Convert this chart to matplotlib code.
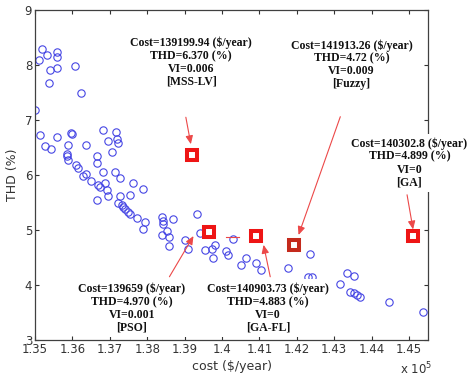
import matplotlib
matplotlib.use("Agg")
import matplotlib.pyplot as plt
from matplotlib.ticker import FormatStrFormatter

# Pareto front points: cost ($/year) and THD (%)
cost = [135180, 135115, 135313, 135597, 135597, 135402, 135597, 136063, 135383, 136223,
        135000, 135134, 135268, 135436, 135581, 135964, 135990, 135891, 136373, 136812,
        137168, 137195, 137222, 136954, 137053, 135849, 135865, 135891, 136084, 136138,
        136272, 136352, 136491, 136668, 136660, 136812, 137142, 137275, 136695, 136740,
        136874, 137632, 137883, 136919, 136962, 136652, 137275, 137230, 137321, 137364,
        137409, 137498, 137530, 137543, 137722, 137945, 137891, 138400, 138413, 138435,
        138702, 138526, 138392, 138595, 138579, 139329, 139016, 139104, 139417, 139551,
        139730, 139819, 139765, 140100, 140153, 140308, 140630, 140515, 140903, 141031,
        141759, 142343, 142308, 142407, 143157, 143334, 143521, 143414, 143521, 143612,
        143700, 144458, 145379]
thd = [8.29, 8.10, 8.18, 8.23, 8.15, 7.91, 7.95, 7.99, 7.67, 7.49,
       7.18, 6.72, 6.52, 6.48, 6.69, 6.76, 6.75, 6.55, 6.55, 6.82,
       6.78, 6.65, 6.59, 6.61, 6.42, 6.38, 6.34, 6.28, 6.18, 6.12,
       5.98, 6.01, 5.90, 6.35, 6.21, 6.05, 6.06, 5.94, 5.82, 5.79,
       5.85, 5.85, 5.75, 5.73, 5.61, 5.55, 5.61, 5.50, 5.45, 5.42,
       5.39, 5.33, 5.30, 5.64, 5.21, 5.15, 5.01, 5.24, 5.17, 5.11,
       5.20, 4.99, 4.91, 4.87, 4.71, 5.30, 4.81, 4.66, 4.94, 4.64,
       4.66, 4.73, 4.49, 4.62, 4.55, 4.83, 4.50, 4.36, 4.40, 4.27,
       4.31, 4.56, 4.15, 4.14, 4.02, 4.22, 4.16, 3.88, 3.85, 3.82,
       3.78, 3.70, 3.51]

# Method solutions
methods = ["MSS-LV", "PSO", "GA-FL", "Fuzzy", "GA"]
method_cost = [139199.94, 139659, 140903.73, 141913.26, 145111]
method_thd = [6.370, 4.970, 4.883, 4.72, 4.899]
method_cost_label = ["139199.94", "139659", "140903.73", "141913.26", "140302.8"]
method_thd_label = ["6.370", "4.970", "4.883", "4.72", "4.899"]
method_vi_label = ["0.006", "0.001", "0", "0.009", "0"]
method_colors = ["#ee1515", "#ee1515", "#ee1515", "#c42a1c", "#ee1515"]

# annotation text centres and arrow tails/heads (cost, thd)
text_pos = [(139176, 8.05), (137591, 3.58), (141237, 3.58), (143467, 8.01), (145012, 6.22)]
arrow_tail = [(139034, 7.05), (138595, 4.15), (141291, 4.15), (143165, 7.06), (144950, 5.64)]
arrow_head = [(139168, 6.56), (139238, 4.89), (141112, 4.73), (142048, 4.91), (145111, 5.01)]

x_ticks = [1.35, 1.36, 1.37, 1.38, 1.39, 1.40, 1.41, 1.42, 1.43, 1.44, 1.45]
y_ticks = [3, 4, 5, 6, 7, 8, 9]

fig = plt.figure(figsize=(4.74, 3.78), dpi=100)
ax = fig.add_axes([35/474, 1-340/378, (428-35)/474, 330/378])

ax.plot([c/1e5 for c in cost], thd, linestyle="none", marker="o", ms=5.3,
        mfc="none", mec="#4646e4", mew=0.8, zorder=2)

for i in range(len(methods)):
    ax.plot(method_cost[i]/1e5, method_thd[i], linestyle="none", marker="s",
            ms=6.5, mfc="white", mec=method_colors[i], mew=2.9, zorder=4)
    tx, ty = text_pos[i]
    ax.text(tx/1e5, ty,
            f"Cost={method_cost_label[i]} ($/year)\nTHD={method_thd_label[i]} (%)\n"
            f"VI={method_vi_label[i]}\n[{methods[i]}]",
            ha="center", va="center", family="Liberation Serif", fontweight="bold",
            fontsize=8.5, linespacing=1.08, color="#111111", zorder=6,
            bbox=dict(boxstyle="square,pad=0.3", fc="white", ec="none"),
            clip_on=False)
    (x0, y0), (x1, y1) = arrow_tail[i], arrow_head[i]
    ax.annotate("", xy=(x1/1e5, y1), xytext=(x0/1e5, y0),
                arrowprops=dict(arrowstyle="-|>,head_length=0.5,head_width=0.22",
                                color="#ec4848", lw=0.8, shrinkA=0, shrinkB=0),
                zorder=5)

# small stray red line near PSO marker
ax.plot([140113/1e5, 140461/1e5], [4.88, 4.88], color="#ec4848", lw=0.8, zorder=3)

ax.set_xlim(1.35, 1.4551)
ax.set_ylim(3, 9)
ax.set_xticks(x_ticks)
ax.set_yticks(y_ticks)
ax.xaxis.set_major_formatter(FormatStrFormatter("%g"))
ax.tick_params(direction="in", length=3, width=0.8, top=True, right=True,
               labelsize=8.5, colors="#333333", pad=2)
for sp in ax.spines.values():
    sp.set_color("#404040")
    sp.set_linewidth(0.9)
    sp.set_zorder(3)

ax.set_xlabel("cost ($/year)", fontsize=9, color="#333333", labelpad=3)
ax.set_ylabel("THD (%)", fontsize=9, color="#333333", labelpad=4)
fig.text(400/474, 1-369/378, r"x 10$^{5}$", fontsize=8.5, color="#333333",
         ha="left", va="center")

fig.savefig("out.png", dpi=100)
